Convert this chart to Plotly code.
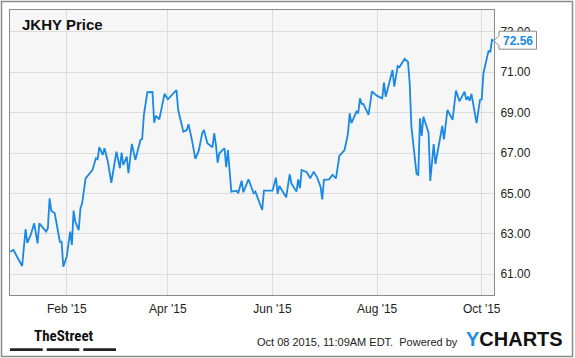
import plotly.graph_objects as go

# ---- data ----
dates = [
    "2014-12-30", "2015-01-01", "2015-01-03", "2015-01-06", "2015-01-08", "2015-01-09",
    "2015-01-11", "2015-01-13", "2015-01-15", "2015-01-16", "2015-01-20", "2015-01-21",
    "2015-01-22", "2015-01-23", "2015-01-25", "2015-01-28", "2015-01-29", "2015-01-30",
    "2015-02-01", "2015-02-03", "2015-02-04", "2015-02-05", "2015-02-06", "2015-02-08",
    "2015-02-09", "2015-02-10", "2015-02-12", "2015-02-16", "2015-02-18", "2015-02-19",
    "2015-02-20", "2015-02-22", "2015-02-23", "2015-02-25", "2015-02-27", "2015-03-02",
    "2015-03-04", "2015-03-05", "2015-03-06", "2015-03-08", "2015-03-09", "2015-03-11",
    "2015-03-13", "2015-03-16", "2015-03-17", "2015-03-18", "2015-03-20", "2015-03-23",
    "2015-03-24", "2015-03-25", "2015-03-27", "2015-03-30", "2015-04-01", "2015-04-06",
    "2015-04-07", "2015-04-10", "2015-04-12", "2015-04-13", "2015-04-15", "2015-04-17",
    "2015-04-19", "2015-04-21", "2015-04-22", "2015-04-24", "2015-04-27", "2015-04-28",
    "2015-04-29", "2015-04-30", "2015-05-01", "2015-05-04", "2015-05-05", "2015-05-06",
    "2015-05-08", "2015-05-11", "2015-05-12", "2015-05-14", "2015-05-15", "2015-05-18",
    "2015-05-19", "2015-05-21", "2015-05-22", "2015-05-24", "2015-05-26", "2015-05-27",
    "2015-06-01", "2015-06-03", "2015-06-04", "2015-06-05", "2015-06-07", "2015-06-09",
    "2015-06-11", "2015-06-12", "2015-06-15", "2015-06-16", "2015-06-17", "2015-06-18",
    "2015-06-21", "2015-06-23", "2015-06-25", "2015-06-27", "2015-06-29", "2015-06-30",
    "2015-07-01", "2015-07-04", "2015-07-06", "2015-07-08", "2015-07-10", "2015-07-13",
    "2015-07-15", "2015-07-16", "2015-07-17", "2015-07-20", "2015-07-21", "2015-07-22",
    "2015-07-23", "2015-07-24", "2015-07-27", "2015-07-29", "2015-08-01", "2015-08-04",
    "2015-08-05", "2015-08-06", "2015-08-10", "2015-08-11", "2015-08-13", "2015-08-14",
    "2015-08-17", "2015-08-19", "2015-08-20", "2015-08-21", "2015-08-24", "2015-08-25",
    "2015-08-26", "2015-08-27", "2015-08-28", "2015-08-31", "2015-09-01", "2015-09-03",
    "2015-09-04", "2015-09-08", "2015-09-09", "2015-09-11", "2015-09-14", "2015-09-16",
    "2015-09-18", "2015-09-21", "2015-09-22", "2015-09-23", "2015-09-24", "2015-09-25",
    "2015-09-28", "2015-09-30", "2015-10-01", "2015-10-02", "2015-10-05", "2015-10-06",
    "2015-10-07", "2015-10-08",
]
prices = [
    62.12, 62.20, 61.87, 61.41, 63.23, 62.56,
    62.95, 63.52, 62.53, 63.52, 63.11, 63.28,
    64.76, 64.15, 64.02, 62.61, 62.61, 61.38,
    61.87, 63.11, 62.45, 64.15, 63.60, 63.19,
    64.27, 64.51, 65.75, 66.16, 66.74, 66.69,
    67.29, 66.91, 67.24, 66.57, 65.53, 67.07,
    66.25, 67.02, 66.41, 66.82, 66.00, 67.45,
    66.66, 67.65, 67.70, 68.89, 70.01, 70.02,
    68.50, 68.84, 68.67, 69.93, 69.66, 70.12,
    69.13, 68.06, 68.14, 68.43, 67.65, 66.71,
    67.12, 67.98, 68.14, 67.49, 67.29, 67.98,
    67.40, 66.52, 66.99, 67.24, 66.30, 67.15,
    65.09, 65.14, 65.01, 65.63, 65.06, 65.70,
    65.47, 65.01, 65.09, 64.68, 64.18, 65.14,
    65.14, 65.78, 64.98, 65.37, 65.09, 64.81,
    65.95, 65.50, 65.09, 65.70, 65.26, 66.16,
    66.05, 65.75, 66.08, 65.80, 65.34, 64.71,
    65.67, 65.70, 65.92, 65.75, 66.86, 67.15,
    67.95, 68.97, 68.48, 69.05, 68.97, 69.71,
    69.43, 69.43, 68.89, 70.05, 69.83, 69.71,
    70.49, 69.79, 71.11, 70.29, 71.31, 71.25,
    71.66, 71.52, 70.46, 68.31, 65.97, 65.92,
    68.72, 67.85, 68.80, 68.01, 65.62, 67.45,
    66.46, 68.34, 67.68, 69.13, 68.64, 70.09,
    69.56, 70.04, 69.63, 69.79, 69.59, 69.93,
    68.48, 69.63, 69.66, 70.95, 72.07, 71.99,
    72.60, 72.56,
]
x_ticks = ["2015-02-01", "2015-04-01", "2015-06-01", "2015-08-01", "2015-10-01"]
y_ticks = [61, 63, 65, 67, 69, 71, 73]
title_text = "JKHY Price"
footer_text = "Oct 08 2015, 11:09AM EDT.  Powered by"
last_label = "72.56"

# ---- layout geometry ----
W, H = 575, 358
L, R, T, B = 10, 81, 10, 63
PW, PH = W - L - R, H - T - B
Y_RANGE = [59.975, 74.08]
X_RANGE = ["2014-12-29 22:00", "2015-10-08 04:00"]


def px(x):
    return (x - L) / PW


def py(y):
    return (H - B - y) / PH


LINE_BLUE = "#1a88e6"
TEXT = "#222222"
FONT = "Liberation Sans, Arial, sans-serif"

fig = go.Figure()
fig.add_trace(go.Scatter(
    x=dates, y=prices, mode="lines",
    line=dict(color=LINE_BLUE, width=1.8),
    hoverinfo="skip", showlegend=False,
))

yanchor_last = (prices[-1] - Y_RANGE[0]) / (Y_RANGE[1] - Y_RANGE[0])

shapes = [
    # outer frame
    dict(type="rect", xref="paper", yref="paper",
         x0=px(1.5), x1=px(572.5), y0=py(1.5), y1=py(356.5),
         line=dict(color="#8a8a8a", width=1.5), fillcolor="rgba(0,0,0,0)", layer="above"),
    # TheStreet bars
    dict(type="rect", xref="paper", yref="paper", x0=px(10), x1=px(42.7),
         y0=py(348.3), y1=py(351), line=dict(width=0), fillcolor="#222", layer="above"),
    dict(type="rect", xref="paper", yref="paper", x0=px(46.7), x1=px(79.3),
         y0=py(348.3), y1=py(351), line=dict(width=0), fillcolor="#222", layer="above"),
    dict(type="rect", xref="paper", yref="paper", x0=px(83.3), x1=px(116),
         y0=py(348.3), y1=py(351), line=dict(width=0), fillcolor="#222", layer="above"),
    # last-value callout
    dict(type="path", xref="paper", yref="paper",
         xsizemode="pixel", ysizemode="pixel", xanchor=1.0, yanchor=yanchor_last,
         path="M 0,0 L 5,5 L 5,9.5 L 42.5,9.5 L 42.5,-8.5 L 5,-8.5 L 5,-5 Z",
         line=dict(color="#8a8a8a", width=1), fillcolor="white", layer="above"),
]

annotations = [
    dict(xref="paper", yref="paper", x=px(20), y=py(24), xanchor="left", yanchor="middle",
         text="<b>" + title_text + "</b>", showarrow=False,
         font=dict(family=FONT, size=15, color="#111")),
    dict(xref="paper", yref="paper", x=1.0, y=yanchor_last, xanchor="center", yanchor="middle",
         xshift=24, yshift=0, text="<b>" + last_label + "</b>", showarrow=False,
         font=dict(family=FONT, size=12, color=LINE_BLUE)),
    dict(xref="paper", yref="paper", x=px(63.5), y=py(335.5), xanchor="center", yanchor="middle",
         text="<b>TheStreet</b>", showarrow=False,
         font=dict(family="Liberation Sans Narrow, Arial Narrow, Roboto Condensed, Liberation Sans, sans-serif",
                   size=15, color="#111")),
    dict(xref="paper", yref="paper", x=px(460), y=py(342), xanchor="right", yanchor="middle",
         text=footer_text, showarrow=False,
         font=dict(family=FONT, size=11, color=TEXT)),
    dict(xref="paper", yref="paper", x=px(514), y=py(339), xanchor="center", yanchor="middle",
         text="<b><span style='color:#1a8ee6'>Y</span>CHARTS</b>", showarrow=False,
         font=dict(family=FONT, size=20, color="#111")),
]

fig.update_layout(
    width=W, height=H,
    margin=dict(l=L, r=R, t=T, b=B, pad=0),
    paper_bgcolor="white", plot_bgcolor="#f6f6f6",
    font=dict(family=FONT, size=12, color=TEXT),
    showlegend=False,
    shapes=shapes, annotations=annotations,
    xaxis=dict(
        type="date", range=X_RANGE, tickvals=x_ticks, tickformat="%b '%y",
        showgrid=True, gridcolor="#dcdcdc", gridwidth=1,
        showline=True, linecolor="#8a8a8a", linewidth=1, mirror=True,
        ticks="outside", ticklen=3, tickcolor="rgba(0,0,0,0)",
        tickfont=dict(family=FONT, size=12, color=TEXT), zeroline=False, fixedrange=True,
    ),
    yaxis=dict(
        range=Y_RANGE, side="right", tickvals=y_ticks, tickformat=".2f",
        showgrid=True, gridcolor="#dcdcdc", gridwidth=1,
        showline=True, linecolor="#8a8a8a", linewidth=1, mirror=True,
        ticks="outside", ticklen=3, tickcolor="rgba(0,0,0,0)",
        tickfont=dict(family=FONT, size=12, color=TEXT), zeroline=False, fixedrange=True,
    ),
)

fig.write_html("out.html", config={"displayModeBar": False})
